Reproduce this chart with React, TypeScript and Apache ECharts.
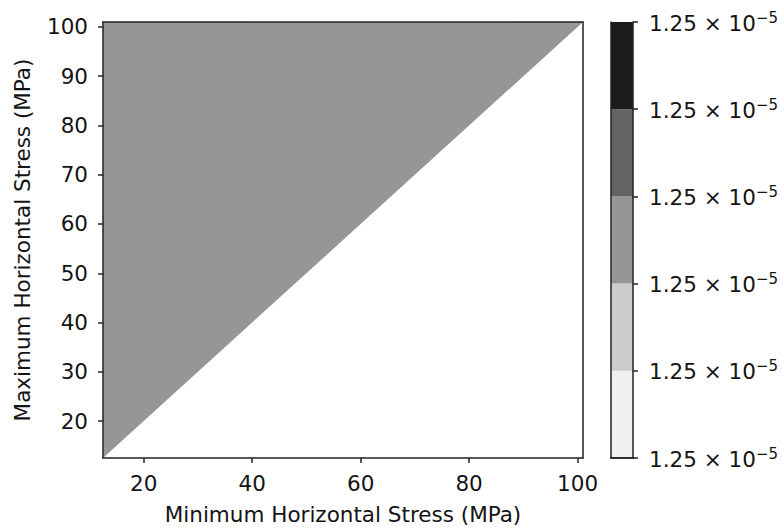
import React, { useEffect, useRef } from "react";
import * as echarts from "echarts";

// Stress range (MPa)
const stressMin = 12.5;
const stressMax = 101;
// Boundary of the filled region (Max = Min diagonal)
const diagonalMin = [12.5, 101];
const diagonalMax = [12.5, 101];
const xTicks = [20, 40, 60, 80, 100];
const yTicks = [20, 30, 40, 50, 60, 70, 80, 90, 100];
// Colorbar bands (bottom to top) and tick labels
const bandColors = ["#f0f0f0", "#cccccc", "#969696", "#636363", "#1c1c1c"];
const bandSizes = [1, 1, 1, 1, 1];
const cbTickLabels = ["1.25", "1.25", "1.25", "1.25", "1.25", "1.25"];
const cbExponent = "−5";
const fillColor = "#969696";

const FONT = "DejaVu Sans";
const TXT = "#141414";
const FS = 21.5;

export default function App() {
  const ref = useRef<HTMLDivElement>(null);
  useEffect(() => {
    const chart = echarts.init(ref.current!, null, { renderer: "svg" });
    const axisLine = { show: true, lineStyle: { color: "#222", width: 1.5 } };
    const diag = diagonalMin.map((v, i) => [v, diagonalMax[i]]);
    const cbSeries = bandColors.map((c, i) => ({
      type: "bar",
      xAxisIndex: 2,
      yAxisIndex: 2,
      stack: "cb",
      barWidth: "100%",
      data: [bandSizes[i]],
      itemStyle: { color: c },
      silent: true,
    }));
    chart.setOption({
      animation: false,
      backgroundColor: "#fff",
      textStyle: { fontFamily: FONT },
      grid: [
        { left: 103, top: 22, width: 480, height: 436 },
        { left: 611, top: 22, width: 22, height: 436 },
      ],
      xAxis: [
        {
          type: "value",
          gridIndex: 0,
          min: stressMin,
          max: stressMax,
          position: "bottom",
          name: "Minimum Horizontal Stress (MPa)",
          nameLocation: "middle",
          nameGap: 45,
          nameTextStyle: { fontSize: FS, color: TXT, fontFamily: FONT },
          axisLine,
          axisTick: { show: true, length: 5, inside: false, customValues: xTicks, lineStyle: { color: "#222", width: 1.5 } },
          axisLabel: { customValues: xTicks, fontSize: FS, color: TXT, fontFamily: FONT, margin: 14 },
          splitLine: { show: false },
          z: 10,
        },
        {
          type: "value",
          gridIndex: 0,
          min: stressMin,
          max: stressMax,
          position: "top",
          axisLine,
          axisTick: { show: false },
          axisLabel: { show: false },
          splitLine: { show: false },
          z: 10,
        },
        {
          type: "category",
          gridIndex: 1,
          data: ["cb"],
          axisLine,
          axisTick: { show: false },
          axisLabel: { show: false },
          z: 10,
        },
        {
          type: "category",
          gridIndex: 1,
          position: "top",
          data: ["cb"],
          axisLine,
          axisTick: { show: false },
          axisLabel: { show: false },
          z: 10,
        },
      ],
      yAxis: [
        {
          type: "value",
          gridIndex: 0,
          min: stressMin,
          max: stressMax,
          position: "left",
          name: "Maximum Horizontal Stress (MPa)",
          nameLocation: "middle",
          nameGap: 70,
          nameTextStyle: { fontSize: FS, color: TXT, fontFamily: FONT },
          axisLine,
          axisTick: { show: true, length: 5, customValues: yTicks, lineStyle: { color: "#222", width: 1.5 } },
          axisLabel: { customValues: yTicks, fontSize: FS, color: TXT, fontFamily: FONT, margin: 15 },
          splitLine: { show: false },
          z: 10,
        },
        {
          type: "value",
          gridIndex: 0,
          min: stressMin,
          max: stressMax,
          position: "right",
          axisLine,
          axisTick: { show: false },
          axisLabel: { show: false },
          splitLine: { show: false },
          z: 10,
        },
        {
          type: "value",
          gridIndex: 1,
          min: 0,
          max: bandSizes.length,
          interval: 1,
          position: "right",
          axisLine,
          axisTick: { show: true, length: 5, lineStyle: { color: "#222", width: 1.5 } },
          axisLabel: {
            margin: 16,
            formatter: (_v: number, i: number) =>
              `{b|${cbTickLabels[i] ?? cbTickLabels[0]} × 10}{s|${cbExponent}}`,
            rich: {
              b: { fontSize: FS, color: TXT, fontFamily: FONT, verticalAlign: "bottom", lineHeight: 24 },
              s: { fontSize: 15, color: TXT, fontFamily: FONT, verticalAlign: "top", lineHeight: 24, padding: [0, 0, 8, 0] },
            },
          },
          splitLine: { show: false },
          z: 10,
        },
        {
          type: "value",
          gridIndex: 1,
          min: 0,
          max: bandSizes.length,
          position: "left",
          axisLine,
          axisTick: { show: false },
          axisLabel: { show: false },
          splitLine: { show: false },
          z: 10,
        },
      ],
      series: [
        {
          type: "line",
          xAxisIndex: 0,
          yAxisIndex: 0,
          data: diag,
          symbol: "none",
          lineStyle: { width: 0 },
          areaStyle: { color: fillColor, opacity: 1, origin: "end" },
          silent: true,
        },
        ...cbSeries,
      ],
    });
    return () => chart.dispose();
  }, []);
  return (
    <div
      ref={ref}
      style={{ position: "fixed", left: 0, top: 0, width: 782, height: 531 }}
    />
  );
}
